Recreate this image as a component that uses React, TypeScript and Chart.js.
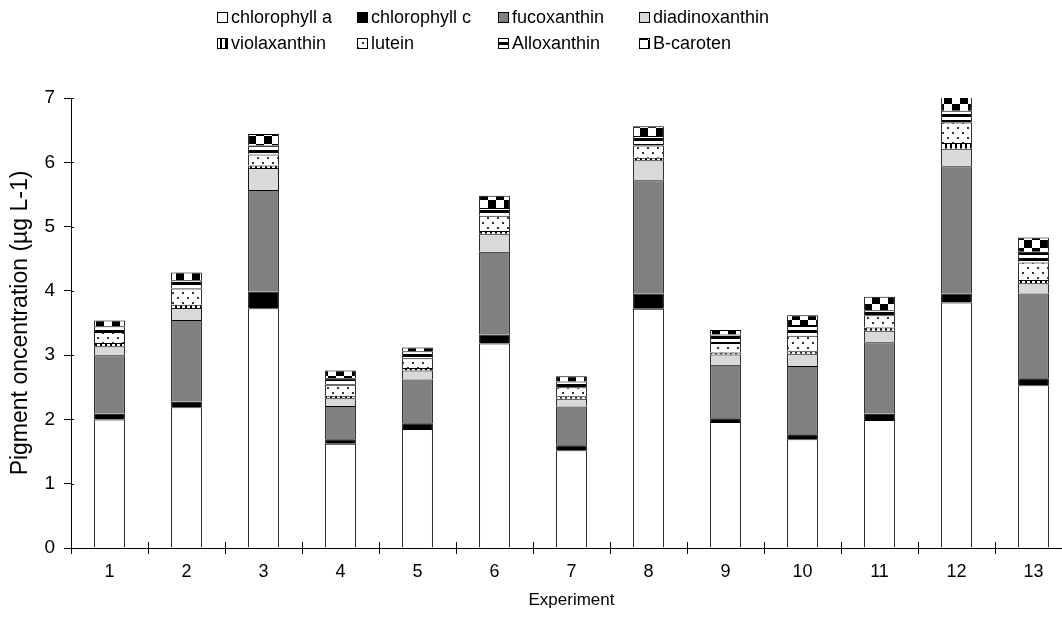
import React, { useEffect, useRef } from 'react';
import { Chart, registerables } from 'chart.js';

Chart.register(...registerables);

const categories = ['1', '2', '3', '4', '5', '6', '7', '8', '9', '10', '11', '12', '13'];
const chlorophyllA = [2.0, 2.19, 3.73, 1.62, 1.85, 3.18, 1.52, 3.72, 1.96, 1.69, 1.99, 3.82, 2.53];
const chlorophyllC = [0.09, 0.085, 0.26, 0.07, 0.09, 0.14, 0.08, 0.24, 0.06, 0.08, 0.1, 0.14, 0.11];
const fucoxanthin = [0.91, 1.27, 1.58, 0.52, 0.68, 1.29, 0.6, 1.76, 0.83, 1.06, 1.11, 1.98, 1.32];
const diadinoxanthin = [0.14, 0.19, 0.34, 0.12, 0.14, 0.28, 0.12, 0.31, 0.16, 0.19, 0.18, 0.27, 0.16];
const violaxanthin = [0.05, 0.05, 0.04, 0.04, 0.04, 0.04, 0.04, 0.04, 0.03, 0.04, 0.05, 0.09, 0.05];
const lutein = [0.17, 0.25, 0.17, 0.17, 0.15, 0.24, 0.14, 0.19, 0.15, 0.24, 0.19, 0.32, 0.27];
const alloxanthin = [0.09, 0.13, 0.14, 0.1, 0.11, 0.12, 0.09, 0.15, 0.13, 0.17, 0.08, 0.18, 0.17];
const bCaroten = [0.09, 0.12, 0.18, 0.12, 0.06, 0.19, 0.08, 0.15, 0.07, 0.15, 0.21, 0.25, 0.22];

const seriesLabels = [
  'chlorophyll a',
  'chlorophyll c',
  'fucoxanthin',
  'diadinoxanthin',
  'violaxanthin',
  'lutein',
  'Alloxanthin',
  'B-caroten',
];
const seriesValues = [
  chlorophyllA,
  chlorophyllC,
  fucoxanthin,
  diadinoxanthin,
  violaxanthin,
  lutein,
  alloxanthin,
  bCaroten,
];
const yTicks = [0, 1, 2, 3, 4, 5, 6, 7];

const FONT = "'Liberation Sans', Arial, sans-serif";

export default function App() {
  const ref = useRef<HTMLCanvasElement>(null);

  useEffect(() => {
    const canvas = ref.current!;
    const ctx = canvas.getContext('2d')!;
    const mk = (w: number, h: number, draw: (g: CanvasRenderingContext2D) => void) => {
      const c = document.createElement('canvas');
      c.width = w;
      c.height = h;
      const g = c.getContext('2d')!;
      draw(g);
      return ctx.createPattern(c, 'repeat') as CanvasPattern;
    };
    const violaPat = mk(5, 4, (g) => {
      g.fillStyle = '#fff';
      g.fillRect(0, 0, 5, 4);
      g.fillStyle = '#000';
      g.fillRect(0, 0, 2, 4);
    });
    const luteinPat = mk(10, 10, (g) => {
      g.fillStyle = '#fff';
      g.fillRect(0, 0, 10, 10);
      g.fillStyle = '#333';
      g.fillRect(2, 2, 2, 2);
      g.fillRect(7, 7, 2, 2);
    });
    const alloPat = mk(4, 6, (g) => {
      g.fillStyle = '#fff';
      g.fillRect(0, 0, 4, 6);
      g.fillStyle = '#000';
      g.fillRect(0, 0, 4, 3);
    });
    const carPat = mk(16, 16, (g) => {
      g.fillStyle = '#fff';
      g.fillRect(0, 0, 16, 16);
      g.fillStyle = '#000';
      g.fillRect(0, 0, 8, 8);
      g.fillRect(8, 8, 8, 8);
    });
    const fills: (string | CanvasPattern)[] = [
      '#ffffff',
      '#000000',
      '#808080',
      '#d9d9d9',
      violaPat,
      luteinPat,
      alloPat,
      carPat,
    ];

    const extras = {
      id: 'extras',
      afterDraw(chart: any) {
        const c = chart.ctx as CanvasRenderingContext2D;
        const area = chart.chartArea;
        const xs = chart.scales.x;
        const ys = chart.scales.y;
        c.save();
        c.strokeStyle = '#000';
        c.lineWidth = 1;
        c.beginPath();
        const half = (xs.getPixelForValue(1) - xs.getPixelForValue(0)) / 2;
        for (let i = 0; i <= categories.length; i++) {
          const px = Math.round(xs.getPixelForValue(i) - half) + 0.5;
          c.moveTo(px, area.bottom);
          c.lineTo(px, area.bottom - 6);
        }
        for (const v of yTicks) {
          const py = Math.round(ys.getPixelForValue(v)) + 0.5;
          c.moveTo(area.left, py);
          c.lineTo(area.left + 3, py);
        }
        c.stroke();
        const cols = [217, 357, 498, 639];
        const rows = [17, 43];
        c.font = `18px ${FONT}`;
        c.textBaseline = 'middle';
        c.textAlign = 'left';
        seriesLabels.forEach((lab, i) => {
          const x = cols[i % 4];
          const y = rows[Math.floor(i / 4)];
          c.fillStyle = fills[i] as any;
          c.fillRect(x, y - 5, 11, 11);
          c.strokeStyle = '#000';
          c.strokeRect(x + 0.5, y - 4.5, 10, 10);
          c.fillStyle = '#000';
          c.fillText(lab, x + 14, y + 1);
        });
        c.restore();
      },
    };

    const chart = new Chart(canvas, {
      type: 'bar',
      data: {
        labels: categories,
        datasets: seriesLabels.map((lab, i) => ({
          label: lab,
          data: seriesValues[i],
          backgroundColor: fills[i] as any,
          borderColor: '#000',
          borderWidth: 1,
          categoryPercentage: 1,
          barPercentage: 0.4,
        })),
      },
      options: {
        responsive: false,
        animation: false,
        events: [],
        layout: { padding: { top: 98, left: 0, right: 2, bottom: 0 } },
        plugins: {
          legend: { display: false },
          tooltip: { enabled: false },
        },
        scales: {
          x: {
            stacked: true,
            offset: true,
            grid: {
              display: true,
              offset: true,
              drawOnChartArea: false,
              drawTicks: true,
              tickLength: 6,
              color: '#000',
            },
            border: { display: true, color: '#000', width: 1 },
            ticks: { color: '#000', font: { family: FONT, size: 18 }, padding: 7, maxRotation: 0 },
            title: {
              display: true,
              text: 'Experiment',
              color: '#000',
              font: { family: FONT, size: 17 },
              padding: { top: 0, bottom: 6 },
            },
            afterFit: (s: any) => {
              s.height = 69;
            },
          },
          y: {
            stacked: true,
            min: 0,
            max: 7,
            ticks: { stepSize: 1, color: '#000', font: { family: FONT, size: 19 }, padding: 9 },
            grid: {
              display: true,
              drawOnChartArea: false,
              drawTicks: true,
              tickLength: 7,
              color: '#000',
            },
            border: { display: true, color: '#000', width: 1 },
            title: {
              display: true,
              text: 'Pigment oncentration (µg L-1)',
              color: '#000',
              font: { family: FONT, size: 23 },
              padding: { top: 7, bottom: 0 },
            },
            afterFit: (s: any) => {
              s.width = 71;
            },
          },
        },
      },
      plugins: [extras],
    });
    return () => chart.destroy();
  }, []);

  return (
    <div
      style={{
        position: 'absolute',
        left: 0,
        top: 0,
        width: 1062,
        height: 617,
        overflow: 'hidden',
        background: '#fff',
      }}
    >
      <canvas ref={ref} width={1074} height={617} style={{ display: 'block', width: 1074, height: 617 }} />
    </div>
  );
}
